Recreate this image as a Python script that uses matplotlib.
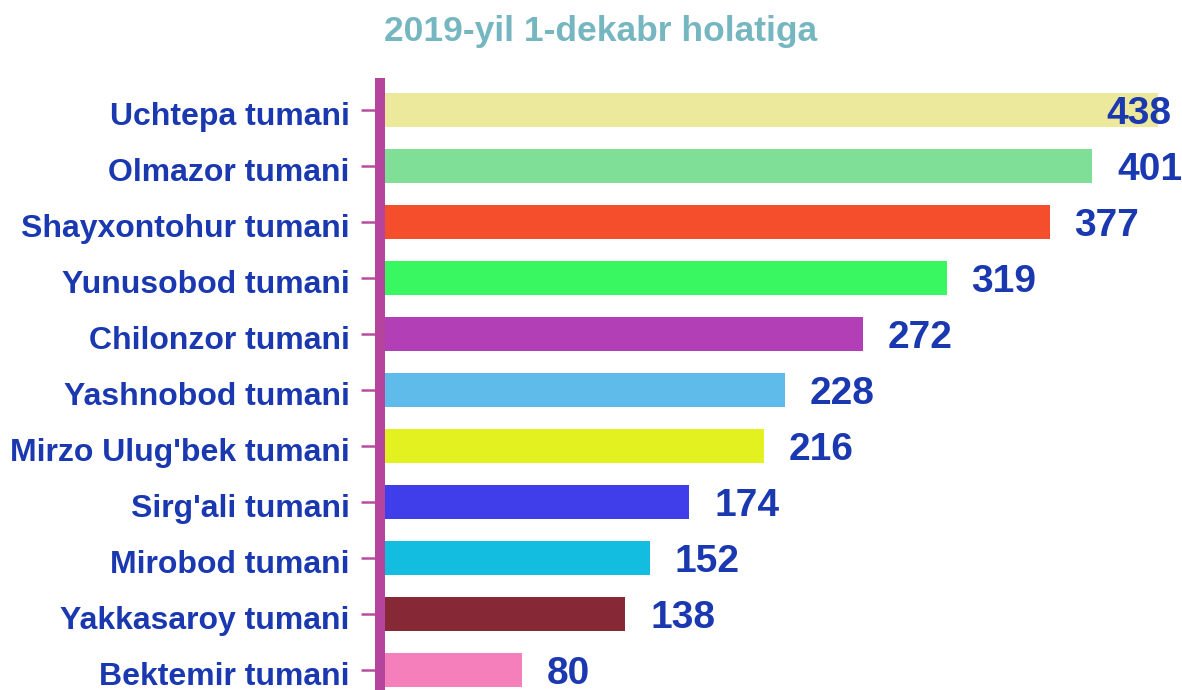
import matplotlib.pyplot as plt
from matplotlib.transforms import ScaledTranslation

# tumanlar, pastdan yuqoriga
districts = ["Bektemir tumani", "Yakkasaroy tumani", "Mirobod tumani",
             "Sirg'ali tumani", "Mirzo Ulug'bek tumani", "Yashnobod tumani",
             "Chilonzor tumani", "Yunusobod tumani", "Shayxontohur tumani",
             "Olmazor tumani", "Uchtepa tumani"]
counts = [80, 138, 152, 174, 216, 228, 272, 319, 377, 401, 438]
colors = ["#f47fba", "#862836", "#13bde0", "#403dea", "#e4f121", "#5ebbea",
          "#b33fb6", "#38f761", "#f44e2c", "#7fdf97", "#ece99c"]

plt.rcParams['font.family'] = ['Liberation Sans', 'DejaVu Sans']
text_col = "#1a38b0"
axis_col = "#b5449d"

fig = plt.figure(figsize=(11.82, 6.9), dpi=100)
ax = fig.add_axes([380 / 1182, 0, 1 - 380 / 1182, 1 - 83 / 690])

y = list(range(len(districts)))
ax.barh(y, counts, height=0.6, color=colors, zorder=1)

xmax = 802 / 1.776
ax.set_xlim(0, xmax)
ax.set_ylim(-0.357, 10.482)

for i, v in zip(y, counts):
    if v == max(counts):
        ax.annotate(str(v), (xmax, i), xytext=(-8, -3), textcoords='offset points',
                    ha='right', va='center', fontsize=28, fontweight='bold',
                    color=text_col, zorder=3)
    else:
        ax.annotate(str(v), (v, i), xytext=(18, -3), textcoords='offset points',
                    ha='left', va='center', fontsize=28, fontweight='bold',
                    color=text_col)

ax.set_yticks(y)
ax.set_yticklabels(districts, fontsize=23, fontweight='bold', color=text_col)
ax.tick_params(axis='y', length=14, width=1.8, color="#b84d9f", pad=8)
ax.set_xticks([])
shift = ScaledTranslation(0, -2.5 / 72, fig.dpi_scale_trans)
for lab in ax.get_yticklabels():
    lab.set_transform(lab.get_transform() + shift)

for s in ['top', 'right', 'bottom']:
    ax.spines[s].set_visible(False)
ax.spines['left'].set_color(axis_col)
ax.spines['left'].set_linewidth(7.2)
ax.spines['left'].set_zorder(2)

fig.text(601 / 1182, 1 - 31 / 690, "2019-yil 1-dekabr holatiga", ha='center',
         va='center', fontsize=25.5, fontweight='bold', color="#76b6c0")

fig.savefig("out.png", dpi=100)
